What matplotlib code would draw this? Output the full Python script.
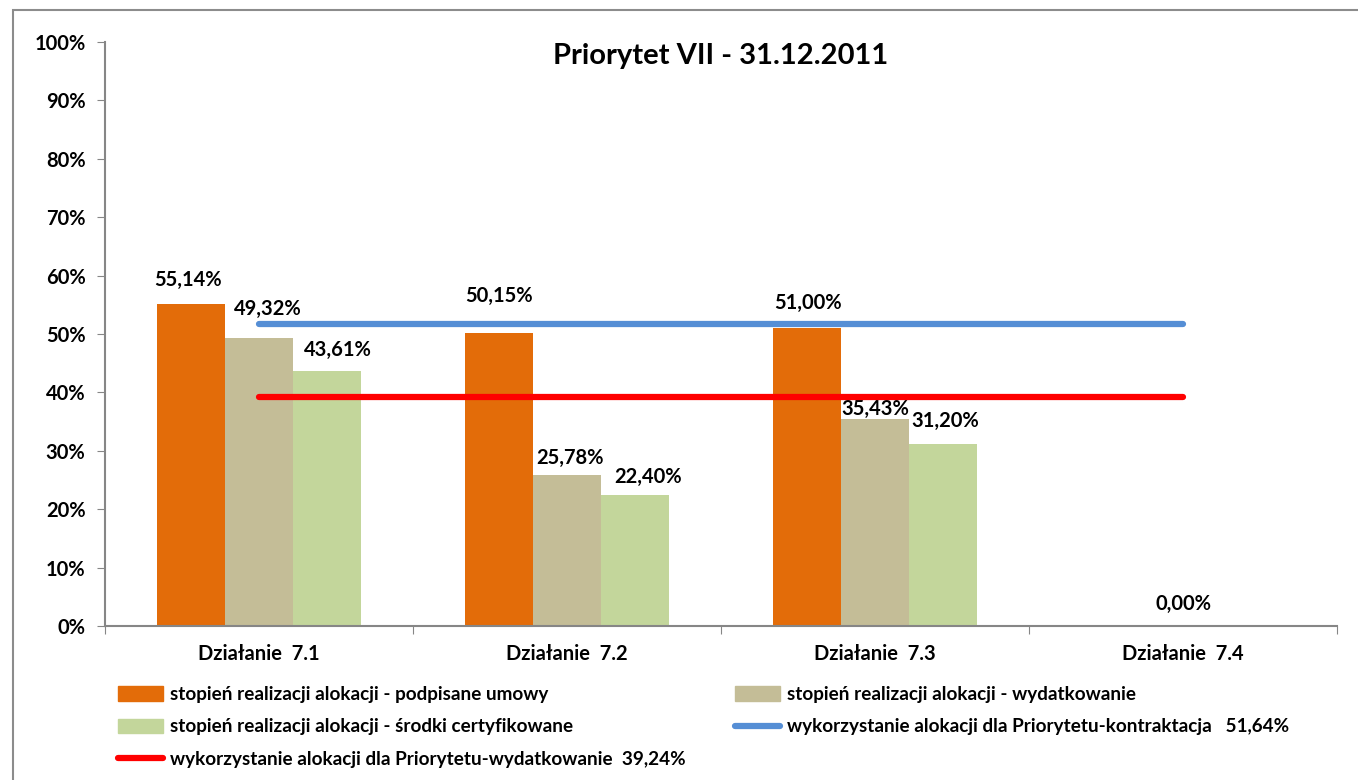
import numpy as np
import matplotlib.pyplot as plt
from matplotlib.patches import Rectangle

plt.rcParams['font.family'] = ['Lato', 'DejaVu Sans']
plt.rcParams['font.weight'] = 'bold'

# Data
categories = ['Działanie  7.1', 'Działanie  7.2', 'Działanie  7.3', 'Działanie  7.4']
umowy = [55.14, 50.15, 51.00, np.nan]
wydatkowanie = [49.32, 25.78, 35.43, 0.00]
certyfikowane = [43.61, 22.40, 31.20, np.nan]
kontraktacja = [51.64, 51.64, 51.64, 51.64]
wydatk_prior = [39.24, 39.24, 39.24, 39.24]

series_names = ['stopień realizacji alokacji - podpisane umowy',
                'stopień realizacji alokacji - wydatkowanie',
                'stopień realizacji alokacji - środki certyfikowane']
line_names = ['wykorzystanie alokacji dla Priorytetu-kontraktacja   51,64%',
              'wykorzystanie alokacji dla Priorytetu-wydatkowanie  39,24%']

# Label nudges in pixels (dx, dy) per series, per category
label_offsets = [
    [(-3, 24), (0, 37), (1, 25), None],
    [(9, 29), (3, 17), (0, 10), (0, 22)],
    [(11, 21), (13, 18), (2, 23), None],
]

colors = ['#E36C09', '#C4BD97', '#C3D69B']
blue = '#558ED5'
red = '#FF0000'
gray = '#868686'

fig = plt.figure(figsize=(13.58, 7.80), dpi=100)
W, H = 1358, 780
ax = fig.add_axes([105 / W, 1 - 626 / H, (1337 - 105) / W, (626 - 42) / H])

# outer chart frame
fig.patches.append(Rectangle((13 / W, -0.1), 1.2, 1 - 10 / H + 0.1,
                             transform=fig.transFigure, fill=False,
                             edgecolor='#8C8C8C', linewidth=1.5))

x = np.arange(len(categories))
bw = 0.22
all_series = [umowy, wydatkowanie, certyfikowane]
for i, vals in enumerate(all_series):
    pos = x + (i - 1) * bw
    ax.bar(pos, vals, width=bw, color=colors[i], label=series_names[i], zorder=2)
    for j, v in enumerate(vals):
        if np.isnan(v) or label_offsets[i][j] is None:
            continue
        dx, dy = label_offsets[i][j]
        ax.annotate(f'{v:.2f}%'.replace('.', ','), (pos[j], v),
                    xytext=(dx, dy), textcoords='offset pixels',
                    ha='center', va='center', fontsize=14.5, fontweight='bold')

l1, = ax.plot(x, kontraktacja, color=blue, lw=4.5, solid_capstyle='round', zorder=3)
l2, = ax.plot(x, wydatk_prior, color=red, lw=4.5, solid_capstyle='round', zorder=3)

ax.set_xlim(-0.5, 3.5)
ax.set_ylim(0, 100)
ax.set_yticks(np.arange(0, 101, 10))
ax.set_yticklabels([f'{t}%' for t in range(0, 101, 10)], fontsize=14.5, fontweight='bold')
ax.set_xticks(np.arange(-0.5, 4, 1))
ax.set_xticklabels([])
ax.set_xticks(x, minor=True)
ax.set_xticklabels(categories, minor=True, fontsize=14.5, fontweight='bold')
ax.tick_params(axis='x', which='minor', length=0, pad=13)
ax.tick_params(axis='x', which='major', length=6, color=gray, direction='out')
ax.tick_params(axis='y', length=6, color=gray, pad=8)
for s in ['top', 'right']:
    ax.spines[s].set_visible(False)
for s in ['left', 'bottom']:
    ax.spines[s].set_color(gray)
    ax.spines[s].set_linewidth(1.5)

ax.set_title('Priorytet VII - 31.12.2011', fontsize=21, fontweight='bold', pad=-16, y=1.0)

# legend, row-major order via column fill
h = [Rectangle((0, 0), 1, 1, color=c) for c in colors]
handles = [h[0], h[2], l2, h[1], l1]
labels = [series_names[0], series_names[2], line_names[1], series_names[1], line_names[0]]
fig.legend(handles, labels, ncol=2, loc='upper left', bbox_to_anchor=(118 / W, 1 - 686 / H),
           frameon=False, prop={'weight': 'bold', 'size': 13.6},
           borderpad=0, borderaxespad=0,
           handlelength=2.4, handleheight=0.8, handletextpad=0.35,
           columnspacing=2.6, labelspacing=0.82)

fig.savefig('out.png', dpi=100)
